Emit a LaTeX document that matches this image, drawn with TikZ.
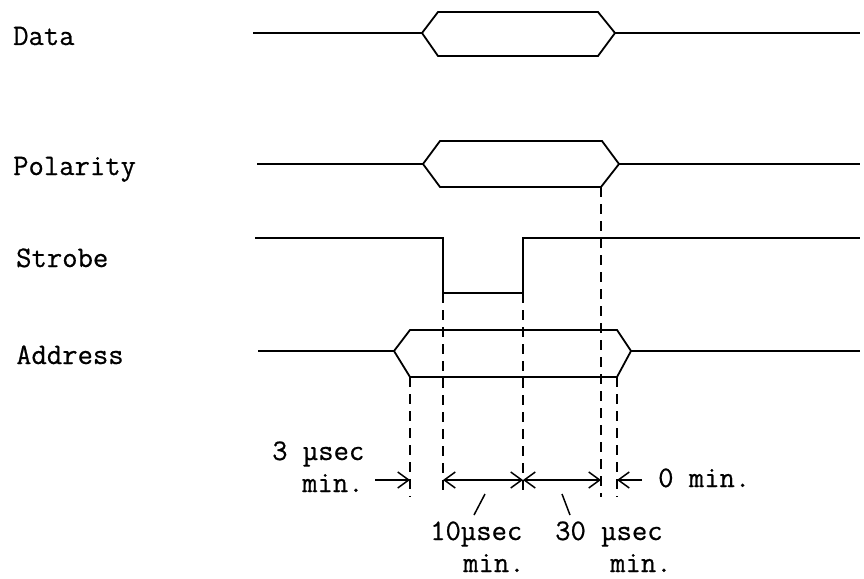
\documentclass[tikz,border=0pt]{standalone}
\usepackage{fontspec}
\newfontfamily\twfont{Latin Modern Mono}[FakeBold=0.6]
\usetikzlibrary{arrows.meta}
\begin{document}
\begin{tikzpicture}[x=1pt,y=-1pt,
  >={Straight Barb[length=11pt,width=16pt,line width=1.5pt]},
  sig/.style={line width=1.8pt, line join=miter},
  guide/.style={line width=1.6pt, dash pattern=on 10pt off 7pt},
  dim/.style={line width=1.4pt},
  lbl/.style={anchor=base west, inner sep=0pt, font=\twfont\fontsize{29.8}{34}\selectfont},
  lead/.style={line width=1.5pt}]
\useasboundingbox (0,0) rectangle (864,578);

% signal names
\node[lbl] (ldata) at (13,45) {Data};
\node[lbl] (lpol) at (13,175) {Polarity};
\node[lbl] (lstr) at (16,267) {Strobe};
\node[lbl] (laddr) at (16,364) {Address};

% Data bus
\coordinate (d0) at (253,33);
\coordinate (dl) at (422,33);
\coordinate (dr) at (615,33);
\coordinate (d1) at (860,33);
\draw[sig] (d0) -- (dl);
\draw[sig] (dl) -- (438,12) -- (598,12) -- (dr) -- (598,56) -- (438,56) -- cycle;
\draw[sig] (dr) -- (d1);

% Polarity bus
\coordinate (p0) at (257,164);
\coordinate (pl) at (423,164);
\coordinate (pr) at (619,164);
\coordinate (p1) at (860,164);
\coordinate (pbr) at (601,187);
\draw[sig] (p0) -- (pl);
\draw[sig] (pl) -- (440,141) -- (602,141) -- (pr) -- (pbr) -- (440,187) -- cycle;
\draw[sig] (pr) -- (p1);

% Strobe
\coordinate (s0) at (255,238);
\coordinate (sfall) at (443,293);
\coordinate (srise) at (523,293);
\coordinate (s1) at (860,238);
\draw[sig] (s0) -- (443,238) -- (sfall) -- (srise) -- (523,238) -- (s1);

% Address bus
\coordinate (a0) at (258,351);
\coordinate (al) at (394,351);
\coordinate (ar) at (631,351);
\coordinate (a1) at (860,351);
\coordinate (abl) at (410,377);
\coordinate (abr) at (617,377);
\draw[sig] (a0) -- (al);
\draw[sig] (al) -- (410,330) -- (617,330) -- (ar) -- (abr) -- (abl) -- cycle;
\draw[sig] (ar) -- (a1);

% dashed guide lines
\coordinate (g1) at (410,497);
\coordinate (g2) at (443,497);
\coordinate (g3) at (523,497);
\coordinate (g4) at (601,497);
\coordinate (g5) at (617,497);
\draw[guide] (abl) -- (g1);
\draw[guide] (sfall) -- (g2);
\draw[guide] (srise) -- (g3);
\draw[guide] (pbr) -- (g4);
\draw[guide] (abr) -- (g5);

% dimension arrows
\coordinate (m1) at (375,480);
\coordinate (m2) at (410,480);
\coordinate (m3) at (443,480);
\coordinate (m4) at (523,480);
\coordinate (m5) at (601,480);
\coordinate (m6) at (617,480);
\coordinate (m7) at (642,480);
\draw[dim, ->] (m1) -- (m2);
\draw[dim, <->] (m3) -- (m4);
\draw[dim, <->] (m4) -- (m5);
\draw[dim, ->] (m7) -- (m6);

% labels
\node[lbl] (t3a) at (272,460) {3 µsec};
\node[lbl] (t3b) at (302,492) {min.};
\node[lbl] (t10a) at (430,540) {10µsec};
\node[lbl] (t10b) at (463,572) {min.};
\node[lbl] (t30a) at (555,540) {30 µsec};
\node[lbl] (t30b) at (610,572) {min.};
\node[lbl] (t0) at (658,487) {0 min.};

% leader ticks
\coordinate (k1a) at (485,494);
\coordinate (k1b) at (474,515);
\coordinate (k2a) at (562,494);
\coordinate (k2b) at (570,515);
\draw[lead] (k1a) -- (k1b);
\draw[lead] (k2a) -- (k2b);
\end{tikzpicture}
\end{document}
